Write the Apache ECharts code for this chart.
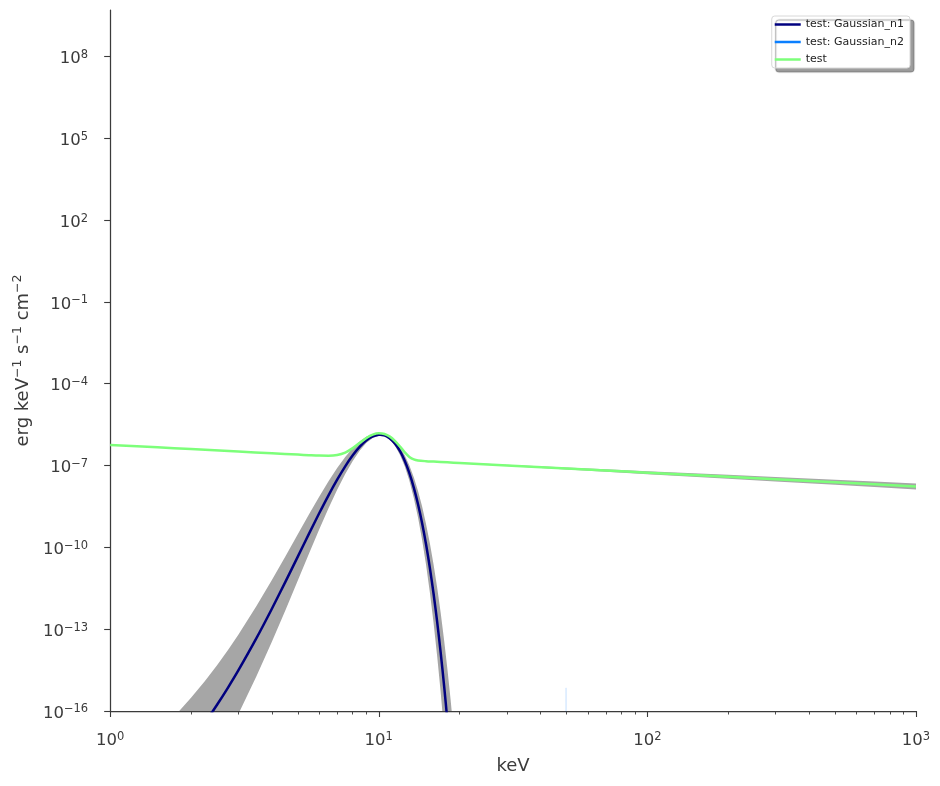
<!DOCTYPE html>
<html><head><meta charset="utf-8">
<script src="https://cdn.jsdelivr.net/npm/echarts@6/dist/echarts.min.js"></script>
<style>html,body{margin:0;padding:0;background:#fff}#c{width:940px;height:786px}</style>
</head><body><div id="c"></div>
<script>
// ---- axis ticks ----
const xTickExps = [0, 1, 2, 3];
const xMinorTicks = [2,3,4,5,6,7,8,9,20,30,40,50,60,70,80,90,200,300,400,500,600,700,800,900];
const yTickExps = [-16, -13, -10, -7, -4, -1, 2, 5, 8];

// ---- series (energy in keV, flux as log10 of erg keV^-1 s^-1 cm^-2) ----
const n1Energy = [1.8,2.0,2.25,2.5,2.75,3.0,3.5,4.0,4.5,5.0,5.5,6.0,6.5,7.0,7.5,8.0,8.5,9.0,9.5,10.0,10.1,10.5,11,11.5,12,12.5,13,13.5,14,14.5,15,15.5,16,16.5,17,17.5,18,18.5];
const n1Log = [-17.681,-17.119,-16.435,-15.773,-15.132,-14.513,-13.339,-12.250,-11.247,-10.330,-9.498,-8.752,-8.092,-7.518,-7.029,-6.626,-6.309,-6.078,-5.932,-5.872,-5.870,-5.897,-6.006,-6.199,-6.476,-6.836,-7.281,-7.810,-8.422,-9.118,-9.899,-10.763,-11.711,-12.743,-13.858,-15.058,-16.342,-17.709];

const n1BandEnergy = [1.8,2.0,2.25,2.5,2.75,3.0,3.5,4.0,4.5,5.0,5.5,6.0,6.5,7.0,7.5,8.0,8.5,9.0,9.5,10.0,10.5,11,11.5,12,12.5,13,13.5,14,14.5,15,15.5,16,16.5,17,17.5,18,18.5,19];
const n1BandUpper = [-16.02,-15.518,-14.909,-14.32,-13.75,-13.2,-12.16,-11.198,-10.316,-9.513,-8.789,-8.144,-7.578,-7.092,-6.684,-6.355,-6.106,-5.936,-5.845,-5.833,-5.862,-5.952,-6.11,-6.338,-6.633,-6.999,-7.433,-7.936,-8.507,-9.149,-9.858,-10.637,-11.484,-12.4,-13.385,-14.44,-15.562,-16.754];
const n1BandLower = [-19.825,-19.167,-18.367,-17.591,-16.841,-16.116,-14.739,-13.462,-12.285,-11.207,-10.228,-9.349,-8.57,-7.891,-7.311,-6.83,-6.45,-6.169,-5.987,-5.905,-5.932,-6.06,-6.288,-6.614,-7.039,-7.563,-8.187,-8.908,-9.729,-10.649,-11.668,-12.785,-14.002,-15.316,-16.731,-18.244,-19.856,-21.57];

const n2Energy = [49.72, 49.8, 49.88];
const n2Log = [-18.0, -15.15, -18.0];

const testEnergy = [1,1.5,2,3,4,5,5.5,6,6.5,7,7.5,8,8.5,9,9.5,10,10.5,11,11.5,12,12.5,13,13.5,14,15,16,18,20,30,50,70,100,200,300,500,700,1000];
const testLog = [-6.245,-6.3345,-6.398,-6.4874,-6.5509,-6.6001,-6.6205,-6.637,-6.642,-6.616,-6.526,-6.362,-6.166,-5.990,-5.869,-5.818,-5.842,-5.940,-6.104,-6.305,-6.518,-6.684,-6.777,-6.816,-6.842,-6.8567,-6.8827,-6.9059,-6.9954,-7.1081,-7.1823,-7.261,-7.4139,-7.5034,-7.6161,-7.6903,-7.769];

const testBandEnergy = [14,20,30,50,70,100,200,300,500,700,1000];
const testBandUpper = [-6.822,-6.8893,-6.9692,-7.0697,-7.1358,-7.206,-7.3423,-7.4222,-7.5227,-7.5888,-7.659];
const testBandLower = [-6.832,-6.9225,-7.0216,-7.1465,-7.2288,-7.316,-7.4855,-7.5846,-7.7095,-7.7918,-7.879];

const seriesNames = ['test: Gaussian_n1', 'test: Gaussian_n2', 'test'];
const seriesColors = ['#00007f', '#0a7fff', '#7dff7a'];

// ---- helpers ----
const lg = Math.log10;
const pairs = (es, vs) => es.map((e, i) => [lg(e), vs[i]]);
const TXT = '#3b3b3b';
const AX = '#3b3b3b';

function bandSeries(es, up, lo, color) {
  return {
    type: 'custom', silent: true, clip: true, z: 1,
    data: [[0, 0]],
    renderItem: function (params, api) {
      const top = es.map((e, i) => api.coord([lg(e), up[i]]));
      const bot = es.map((e, i) => api.coord([lg(e), lo[i]])).reverse();
      const cs = params.coordSys;
      return {
        type: 'polygon',
        shape: { points: top.concat(bot) },
        style: { fill: color },
        clipPath: { type: 'rect', shape: { x: cs.x, y: cs.y, width: cs.width, height: cs.height } }
      };
    }
  };
}

const supRich = {
  b: { fontSize: 16.5, fontFamily: 'DejaVu Sans', color: TXT, lineHeight: 15, padding: [5, 0, 0, 0] },
  s: { fontSize: 11.5, fontFamily: 'DejaVu Sans', color: TXT, lineHeight: 12, verticalAlign: 'top' }
};
const expLabel = v => '{b|10}{s|' + (Math.round(v) < 0 ? '\u2212' + Math.abs(Math.round(v)) : Math.round(v)) + '}';

const chart = echarts.init(document.getElementById('c'), null, { renderer: 'canvas' });
chart.setOption({
  animation: false,
  backgroundColor: '#fff',
  grid: { left: 110, right: 24, top: 10, bottom: 75, containLabel: false },
  legend: {
    orient: 'vertical', right: 30, top: 16,
    data: seriesNames,
    icon: 'rect',
    itemWidth: 26, itemHeight: 2.5, itemGap: 6.5,
    padding: [3, 6, 3, 3],
    backgroundColor: '#fff', borderColor: '#d8d8d8', borderWidth: 1, borderRadius: 3,
    shadowColor: 'rgba(0,0,0,0.38)', shadowOffsetX: 4, shadowOffsetY: 4, shadowBlur: 1,
    textStyle: { fontSize: 11, fontFamily: 'DejaVu Sans', color: '#222', lineHeight: 10 }
  },
  xAxis: [{
    type: 'value', min: 0, max: 3,
    name: 'keV', nameLocation: 'middle', nameGap: 46,
    nameTextStyle: { fontSize: 18, fontFamily: 'DejaVu Sans', color: TXT },
    axisLine: { show: true, onZero: false, lineStyle: { color: AX, width: 1.25 } },
    axisTick: { show: true, length: 6, lineStyle: { color: AX, width: 1.1 }, customValues: xTickExps },
    axisLabel: { margin: 20, customValues: xTickExps, formatter: expLabel, rich: supRich },
    splitLine: { show: false }
  }, {
    type: 'value', min: 0, max: 3, position: 'bottom',
    axisLine: { show: false, onZero: false },
    axisTick: { show: true, length: 3.5, lineStyle: { color: AX, width: 0.9 }, customValues: xMinorTicks.map(lg) },
    axisLabel: { show: false },
    splitLine: { show: false }
  }],
  yAxis: {
    type: 'value', min: -16, max: 9.7,
    name: '{t|erg keV}{s|\u22121}{t| s}{s|\u22121}{t| cm}{s|\u22122}',
    nameLocation: 'middle', nameGap: 75, nameRotate: 90,
    nameTextStyle: {
      rich: {
        t: { fontSize: 18, fontFamily: 'DejaVu Sans', color: TXT, lineHeight: 18, padding: [6, 0, 0, 0] },
        s: { fontSize: 12.5, fontFamily: 'DejaVu Sans', color: TXT, lineHeight: 13, verticalAlign: 'top' }
      }
    },
    axisLine: { show: true, onZero: false, lineStyle: { color: AX, width: 1.25 } },
    axisTick: { show: true, length: 6, lineStyle: { color: AX, width: 1.1 }, customValues: yTickExps },
    axisLabel: { margin: 22, customValues: yTickExps, formatter: expLabel, rich: supRich },
    splitLine: { show: false }
  },
  series: [
    bandSeries(n1BandEnergy, n1BandUpper, n1BandLower, '#a6a6a6'),
    bandSeries(testBandEnergy, testBandUpper, testBandLower, '#a6a6a6'),
    {
      name: seriesNames[0], type: 'line', data: pairs(n1Energy, n1Log), z: 3,
      symbol: 'none', smooth: 0.3, clip: true,
      lineStyle: { color: seriesColors[0], width: 2.5 }, itemStyle: { color: seriesColors[0] }
    },
    {
      name: seriesNames[1], type: 'line', data: pairs(n2Energy, n2Log), z: 2,
      symbol: 'none', clip: true,
      lineStyle: { color: seriesColors[1], width: 1, opacity: 0.12 }, itemStyle: { color: seriesColors[1] }
    },
    {
      name: seriesNames[2], type: 'line', data: pairs(testEnergy, testLog), z: 4,
      symbol: 'none', smooth: 0.3, clip: true,
      lineStyle: { color: seriesColors[2], width: 2.5 }, itemStyle: { color: seriesColors[2] }
    }
  ]
});
</script></body></html>
